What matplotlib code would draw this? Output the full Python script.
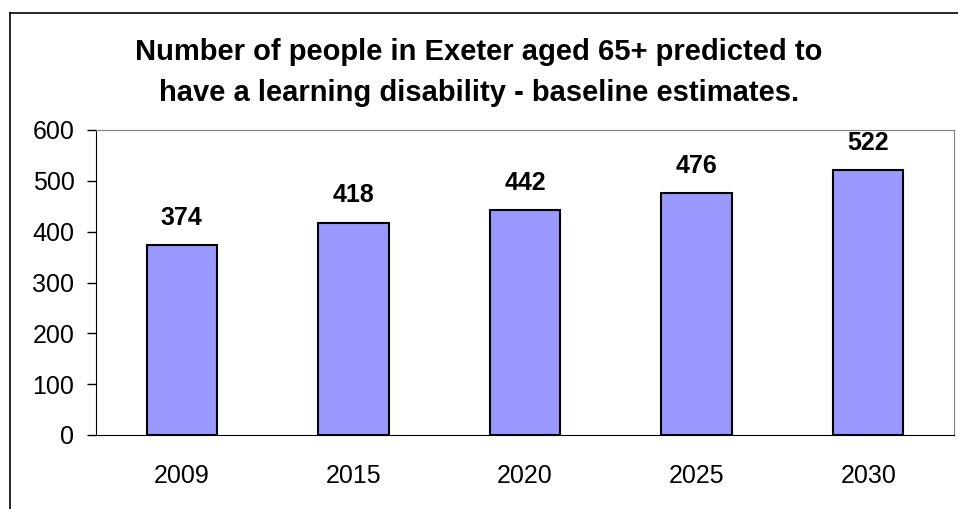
import matplotlib.pyplot as plt
from matplotlib.lines import Line2D

years = ["2009", "2015", "2020", "2025", "2030"]
people = [374, 418, 442, 476, 522]

plt.rcParams["font.family"] = ["Liberation Sans", "DejaVu Sans"]

fig = plt.figure(figsize=(9.58, 5.09), dpi=100)
ax = fig.add_axes([96 / 958, 1 - 435 / 509, 858 / 958, 305 / 509])

x = range(len(years))
bars = ax.bar(x, people, width=0.41, color="#9999FF", edgecolor="black", linewidth=1.5)

for xi, v in zip(x, people):
    ax.annotate(str(v), (xi, v), xytext=(0, 19.5), textcoords="offset points",
                ha="center", va="center", fontsize=18, fontweight="bold")

ax.set_xlim(-0.5, 4.5)
ax.set_ylim(0, 600)
ax.set_yticks(range(0, 601, 100))
ax.set_xticks(list(x))
ax.set_xticklabels(years)
ax.tick_params(axis="x", length=0, pad=21, labelsize=18)
ax.tick_params(axis="y", direction="out", length=6.5, width=1, pad=9, labelsize=18)

ax.spines["left"].set_color("black")
ax.spines["bottom"].set_color("black")
ax.spines["top"].set_color("#808080")
ax.spines["right"].set_color("#808080")

fig.text(0.5, 1 - 52 / 509, "Number of people in Exeter aged 65+ predicted to",
         ha="center", va="center", fontsize=21, fontweight="bold")
fig.text(0.5, 1 - 93 / 509, "have a learning disability - baseline estimates.",
         ha="center", va="center", fontsize=21, fontweight="bold")

# outer chart frame (left and top edges only visible)
fig.add_artist(Line2D([9.5 / 958, 9.5 / 958], [0, 1 - 13 / 509], color="black", lw=1.2))
fig.add_artist(Line2D([9.5 / 958, 1], [1 - 13 / 509, 1 - 13 / 509], color="black", lw=1.2))

fig.savefig("out.png", dpi=100)
